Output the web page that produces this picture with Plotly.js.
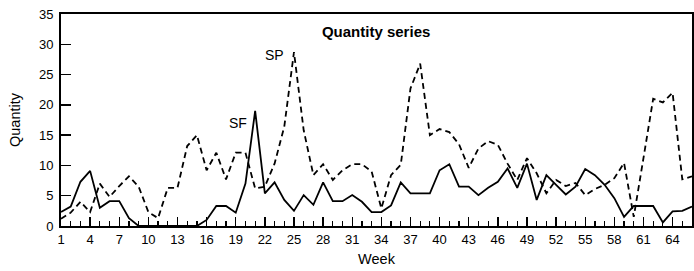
<!DOCTYPE html>
<html>
<head>
<meta charset="utf-8">
<script src="https://cdn.plot.ly/plotly-3.0.1.min.js"></script>
<style>html,body{margin:0;padding:0;background:#fff;}#chart{width:694px;height:271px;}</style>
</head>
<body>
<div id="chart"></div>
<script>
const weeks = [];
for (let w = 1; w <= 66; w++) weeks.push(w);

const sfValues = [2.3, 3.2, 7.3, 9.1, 3.0, 4.1, 4.1, 1.3, 0, 0,
  0, 0, 0, 0, 0, 1.0, 3.3, 3.3, 2.2, 7.0,
  19.0, 5.4, 7.2, 4.3, 2.5, 5.1, 3.5, 7.2, 4.1, 4.1,
  5.1, 4.0, 2.3, 2.3, 3.4, 7.2, 5.4, 5.4, 5.4, 9.2,
  10.2, 6.5, 6.5, 5.1, 6.3, 7.3, 9.5, 6.3, 10.3, 4.3,
  8.4, 6.8, 5.2, 6.5, 9.4, 8.4, 6.8, 4.6, 1.5, 3.3,
  3.3, 3.3, 0.6, 2.4, 2.5, 3.2];

const spValues = [1.2, 2.2, 4.0, 2.3, 7.0, 4.8, 6.6, 8.2, 6.5, 2.3,
  1.3, 6.3, 6.3, 13.2, 15.0, 9.2, 12.1, 7.7, 12.1, 12.1,
  6.2, 6.5, 10.3, 16.4, 28.7, 15.8, 8.4, 10.2, 7.6, 9.2,
  10.2, 10.2, 9.0, 2.9, 8.4, 10.1, 22.7, 26.8, 15.0, 16.0,
  15.5, 13.5, 9.6, 12.8, 14.0, 13.4, 10.3, 7.6, 11.2, 8.7,
  5.4, 7.6, 6.6, 7.1, 5.1, 6.1, 6.8, 7.9, 10.4, 1.5,
  11.2, 21.0, 20.4, 22.0, 7.7, 8.2];

const seriesLabels = ['SF', 'SP'];
const labelWeeks = [19.2, 23.0];
const labelValues = [17.0, 28.2];
const xTickValues = [1, 4, 7, 10, 13, 16, 19, 22, 25, 28, 31, 34, 37, 40, 43, 46, 49, 52, 55, 58, 61, 64];

const font = {family: 'Liberation Sans, Arial, sans-serif', color: '#000', size: 13};
const titleFont = {family: font.family, color: '#000', size: 14.5};

const traces = [
  {x: weeks, y: sfValues, type: 'scatter', mode: 'lines', name: 'SF',
   line: {color: '#000', width: 1.8}},
  {x: weeks, y: spValues, type: 'scatter', mode: 'lines', name: 'SP',
   line: {color: '#000', width: 1.8, dash: '6px,4px'}}
];

const layout = {
  width: 694, height: 271,
  margin: {l: 61, r: 2, t: 14, b: 45},
  paper_bgcolor: '#fff', plot_bgcolor: '#fff',
  showlegend: false,
  font: font,
  title: {text: '<b>Quantity series</b>', font: {family: font.family, size: 15, color: '#000'},
          x: 0.542, xanchor: 'center', y: 0.882, yanchor: 'middle'},
  xaxis: {
    range: [1, 66], showgrid: false, zeroline: false,
    showline: true, linecolor: '#000', linewidth: 2, mirror: true,
    ticks: 'inside', ticklen: 9, tickwidth: 1.3, tickcolor: '#000',
    tickvals: xTickValues, ticktext: xTickValues.map(String),
    minor: {dtick: 1, tick0: 1, ticks: 'inside', ticklen: 5, tickwidth: 1.2, tickcolor: '#000'},
    tickfont: font,
    title: {text: 'Week', font: titleFont, standoff: 8}
  },
  yaxis: {
    range: [0, 35], dtick: 5, showgrid: false, zeroline: false,
    showline: true, linecolor: '#000', linewidth: 2, mirror: true,
    ticks: 'inside', ticklen: 10, tickwidth: 1.3, tickcolor: '#000',
    ticklabelstandoff: 3,
    tickfont: font,
    title: {text: 'Quantity', font: titleFont, standoff: 15}
  },
  annotations: seriesLabels.map((t, i) => ({
    x: labelWeeks[i], y: labelValues[i], xref: 'x', yref: 'y',
    text: t, showarrow: false, font: {family: font.family, size: 14, color: '#000'}
  }))
};

Plotly.newPlot('chart', traces, layout, {displayModeBar: false, staticPlot: true});
</script>
</body>
</html>
